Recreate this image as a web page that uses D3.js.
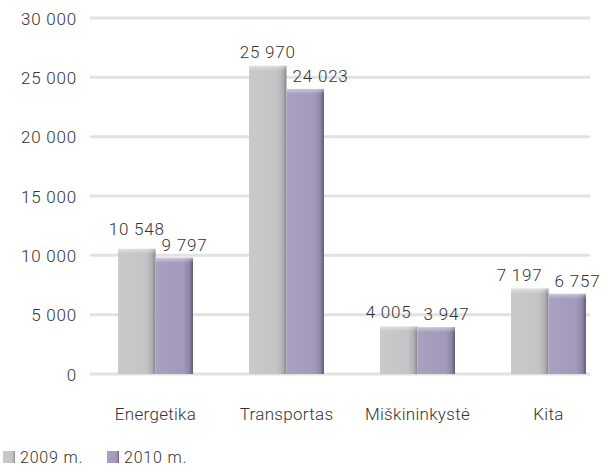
<!DOCTYPE html>
<html>
<head>
<meta charset="utf-8">
<script src="https://cdn.jsdelivr.net/npm/d3@7"></script>
<style>
  body { margin: 0; background: #fff; }
  text { font-family: Roboto, "Liberation Sans", sans-serif; font-weight: 300; fill: #333; }
</style>
</head>
<body>
<div id="chart"></div>
<script>
const categories = ['Energetika', 'Transportas', 'Miškininkystė', 'Kita'];
const seriesNames = ['2009 m.', '2010 m.'];
const values2009 = [10548, 25970, 4005, 7197];
const values2010 = [9797, 24023, 3947, 6757];
const yTicks = [0, 5000, 10000, 15000, 20000, 25000, 30000];

const width = 606, height = 468;
const margin = { top: 18, right: -8, bottom: 96, left: 90 };
const innerW = width - margin.left - margin.right;
const innerH = height - margin.top - margin.bottom;

const fmt = v => d3.format(',')(v).replace(/,/g, ' ');

const svg = d3.select('#chart').append('svg')
  .attr('width', width)
  .attr('height', height);

// gradients for the bevelled bars
const defs = svg.append('defs');
const grads = [
  { id: 'g2009', stops: [['0%', '#c9cacb'], ['75%', '#c3c4c5'], ['90%', '#b0b1b2'], ['100%', '#858687']] },
  { id: 'g2010', stops: [['0%', '#aaa1c1'], ['75%', '#a39abb'], ['90%', '#8f86a8'], ['100%', '#635a7a']] }
];
grads.forEach(g => {
  const lg = defs.append('linearGradient').attr('id', g.id).attr('x1', '0%').attr('x2', '100%');
  g.stops.forEach(s => lg.append('stop').attr('offset', s[0]).attr('stop-color', s[1]));
});
const topGrad = defs.append('linearGradient').attr('id', 'gtop').attr('x1', '0%').attr('y1', '0%').attr('x2', '0%').attr('y2', '100%');
topGrad.append('stop').attr('offset', '0%').attr('stop-color', '#fff').attr('stop-opacity', 0.45);
topGrad.append('stop').attr('offset', '100%').attr('stop-color', '#fff').attr('stop-opacity', 0);

const g = svg.append('g').attr('transform', `translate(${margin.left},${margin.top})`);

const x0 = d3.scaleBand().domain(categories).range([0, innerW]).paddingInner(0).paddingOuter(0);
const x1 = d3.scaleBand().domain(seriesNames).range([0, 75]).padding(0);
const y = d3.scaleLinear().domain([0, 30000]).range([innerH + 2, 0]);

// grid lines
g.selectAll('.grid')
  .data(yTicks)
  .enter().append('line')
  .attr('x1', 0)
  .attr('x2', 500)
  .attr('y1', d => y(d))
  .attr('y2', d => y(d))
  .attr('stroke', '#e2e2e2')
  .attr('stroke-width', 3);

// y axis labels
const yAxis = g.append('g')
  .attr('transform', 'translate(-13,0)')
  .call(d3.axisLeft(y).tickValues(yTicks).tickFormat(fmt).tickSize(0).tickPadding(0));
yAxis.select('.domain').remove();
yAxis.selectAll('text')
  .attr('dy', '0.36em')
  .style('font-family', 'Roboto, "Liberation Sans", sans-serif')
  .style('font-weight', 300)
  .style('font-size', '17px')
  .style('letter-spacing', '0.8px')
  .style('fill', '#333');

const data = categories.map((c, i) => ({
  cat: c,
  vals: [
    { s: seriesNames[0], v: values2009[i], grad: 'g2009' },
    { s: seriesNames[1], v: values2010[i], grad: 'g2010' }
  ]
}));

const groups = g.selectAll('.grp')
  .data(data)
  .enter().append('g')
  .attr('transform', d => `translate(${x0(d.cat) + x0.bandwidth() / 2 - 37.5},0)`);

groups.selectAll('.bar')
  .data(d => d.vals)
  .enter().append('rect')
  .attr('x', d => x1(d.s))
  .attr('y', d => y(d.v))
  .attr('width', x1.bandwidth())
  .attr('height', d => y(0) - y(d.v))
  .attr('fill', d => `url(#${d.grad})`);

groups.selectAll('.bartop')
  .data(d => d.vals)
  .enter().append('rect')
  .attr('x', d => x1(d.s))
  .attr('y', d => y(d.v))
  .attr('width', x1.bandwidth())
  .attr('height', 5)
  .attr('fill', 'url(#gtop)');

// value labels: 2009 centred, 2010 starting just inside its bar
groups.each(function(d) {
  const grp = d3.select(this);
  const [a, b] = d.vals;
  const bx = x1(b.s) + 6;
  const by = y(b.v) - 7;
  grp.append('text')
    .attr('x', bx).attr('y', by)
    .style('font-size', '17px')
    .style('letter-spacing', '0.8px')
    .text(fmt(b.v));
  const la = grp.append('text')
    .attr('text-anchor', 'middle')
    .style('font-size', '17px')
    .style('letter-spacing', '0.8px')
    .text(fmt(a.v));
  let ax = x1(a.s) + x1.bandwidth() / 2;
  let ay = y(a.v) - 8;
  const wa = la.node().getComputedTextLength();
  if (by - ay < 14) {
    if (y(b.v) - y(a.v) > 6) {
      ay = by - 16;
    } else {
      ax = Math.min(ax, bx - 12 - wa / 2);
    }
  }
  la.attr('x', ax).attr('y', ay);
});

// category labels
g.selectAll('.cat')
  .data(categories)
  .enter().append('text')
  .attr('x', d => x0(d) + x0.bandwidth() / 2)
  .attr('y', 420 - margin.top)
  .attr('text-anchor', 'middle')
  .style('font-size', '17px')
  .style('letter-spacing', '0.3px')
  .text(d => d);

// legend
const legend = svg.append('g').attr('transform', 'translate(3,451)');
const legendX = [0, 104];
seriesNames.forEach((s, i) => {
  const lg = legend.append('g').attr('transform', `translate(${legendX[i]},0)`);
  lg.append('rect')
    .attr('width', 12).attr('height', 12)
    .attr('fill', `url(#${grads[i].id})`);
  lg.append('text')
    .attr('x', 17).attr('y', 12)
    .style('font-size', '16px')
    .style('letter-spacing', '0.8px')
    .text(s);
});
</script>
</body>
</html>
